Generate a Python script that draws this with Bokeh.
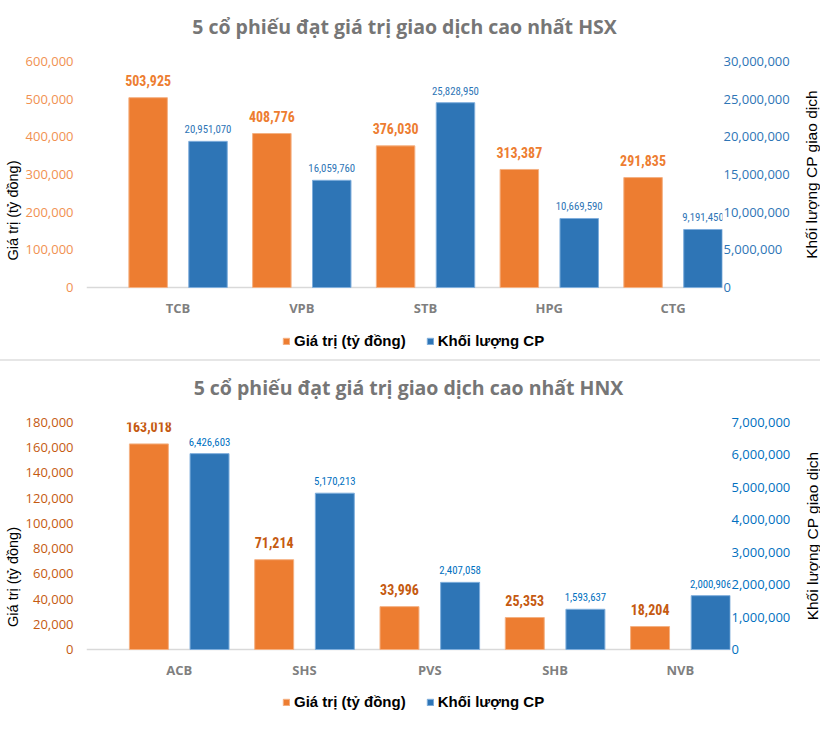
import subprocess
from bokeh.plotting import figure
from bokeh.models import (Range1d, LinearAxis, FixedTicker, NumeralTickFormatter,
                          Span, Legend, LegendItem, Div, Title)
from bokeh.layouts import column, row
from bokeh.core.properties import value
from bokeh.embed import file_html
from bokeh.resources import INLINE

# ---------------- data ----------------
hsx_title = "5 cổ phiếu đạt giá trị giao dịch cao nhất HSX"
hsx_stocks = ["TCB", "VPB", "STB", "HPG", "CTG"]
hsx_value = [503925, 408776, 376030, 313387, 291835]             # Giá trị (tỷ đồng)
hsx_volume = [20951070, 16059760, 25828950, 10669590, 9191450]    # labelled volume
hsx_volume_bar = [19400000, 14230000, 24530000, 9160000, 7700000]  # bar heights as drawn
hsx_left_ticks = [0, 100000, 200000, 300000, 400000, 500000, 600000]
hsx_right_ticks = [0, 5000000, 10000000, 15000000, 20000000, 25000000, 30000000]

hnx_title = "5 cổ phiếu đạt giá trị giao dịch cao nhất HNX"
hnx_stocks = ["ACB", "SHS", "PVS", "SHB", "NVB"]
hnx_value = [163018, 71214, 33996, 25353, 18204]
hnx_volume = [6426603, 5170213, 2407058, 1593637, 2000906]
hnx_volume_bar = [6040000, 4820000, 2070000, 1240000, 1660000]
hnx_left_ticks = [0, 20000, 40000, 60000, 80000, 100000, 120000, 140000, 160000, 180000]
hnx_right_ticks = [0, 1000000, 2000000, 3000000, 4000000, 5000000, 6000000, 7000000]

left_title = "Giá trị (tỷ đồng)"
right_title = "Khối lượng CP giao dịch"
legend_labels = ["Giá trị (tỷ đồng)", "Khối lượng CP"]

ORANGE = "#ED7D31"
BLUE = "#2E75B6"

# pick a narrow font for the data labels
try:
    fams = subprocess.run(["fc-list", ":", "family"], capture_output=True,
                          text=True).stdout
except Exception:
    fams = ""
if "Liberation Sans Narrow" in fams:
    NARROW, OSZ, BSZ = "Liberation Sans Narrow", "15px", "11.5px"
elif "Roboto Condensed" in fams:
    NARROW, OSZ, BSZ = "Roboto Condensed", "14px", "10.8px"
else:
    NARROW, OSZ, BSZ = "Roboto", "12.5px", "10px"


def build(title, stocks, vals, vols, vol_bars, lticks, rticks, frame_w, plot_h, extra_h,
          right_border, legend_y, ltick_color, rtick_color, olab_color, blab_color):
    n = len(stocks)
    ymax, rmax = lticks[-1], rticks[-1]
    p = figure(frame_width=frame_w, frame_height=plot_h + extra_h,
               output_backend="svg", toolbar_location=None,
               x_range=Range1d(-0.74, n - 1 + 0.40),
               y_range=Range1d(-ymax * extra_h / plot_h, ymax),
               min_border_left=86, min_border_right=right_border,
               min_border_top=61, min_border_bottom=0)
    p.extra_y_ranges = {"vol": Range1d(-rmax * extra_h / plot_h, rmax)}
    p.outline_line_color = None
    p.grid.visible = False
    p.background_fill_color = "white"
    p.border_fill_color = "white"
    p.xaxis.visible = False

    # real title, with a blank spacer title between it and the frame
    p.title.text = title
    p.title.align = "center"
    p.title.text_font = "Open Sans"
    p.title.text_font_style = "bold"
    p.title.text_font_size = "19.5px"
    p.title.text_color = "#767676"
    p.title.standoff = 0
    p.add_layout(Title(text=" ", text_font_size="2px", standoff=18), "above")

    xs = list(range(n))
    xo = [x - 0.242 for x in xs]
    xb = [x + 0.242 for x in xs]

    base = Span(location=0, dimension="width", line_color="#D9D9D9", line_width=1.5,
                level="underlay")
    p.add_layout(base)

    r1 = p.vbar(x=xo, top=vals, width=0.311, fill_color=ORANGE, line_color="#F4B183",
                line_width=1)
    r2 = p.vbar(x=xb, top=vol_bars, width=0.311, fill_color=BLUE, line_color="#7FAEDC",
                line_width=1, y_range_name="vol")

    p.text(x=xo, y=vals, text=[f"{v:,}" for v in vals], text_align="center",
           text_baseline="alphabetic", y_offset=-17,
           text_font=value(NARROW), text_font_style="bold",
           text_font_size=OSZ, text_color=olab_color)
    p.text(x=xb, y=vol_bars, text=[f"{v:,}" for v in vols], text_align="center",
           text_baseline="alphabetic", y_offset=-12,
           text_font=value(NARROW),
           text_font_size=BSZ, text_color=blab_color, y_range_name="vol")

    # category labels under the baseline
    p.text(x=xs, y=[0] * n, text=stocks, text_align="center", text_baseline="middle",
           y_offset=20, text_font=value("Open Sans"), text_font_style="bold",
           text_font_size="13px", text_color="#7F7F7F")

    # left axis
    ya = p.yaxis[0]
    ya.ticker = FixedTicker(ticks=lticks)
    ya.formatter = NumeralTickFormatter(format="0,0")
    ya.major_label_text_font = "Open Sans"
    ya.major_label_text_font_size = "13px"
    ya.major_label_text_color = ltick_color
    ya.major_label_standoff = 13
    ya.major_tick_out = 0
    ya.major_tick_in = 0
    ya.minor_tick_out = 0
    ya.minor_tick_in = 0
    ya.axis_line_color = None
    ya.major_tick_line_color = None
    ya.minor_tick_line_color = None
    ya.axis_label = left_title
    ya.axis_label_text_font = "Liberation Sans"
    ya.axis_label_text_font_style = "normal"
    ya.axis_label_text_font_size = "14.5px"
    ya.axis_label_text_color = "black"
    ya.axis_label_standoff = 2

    # right axis (tick labels only; its title is drawn by a slim companion figure)
    ra = LinearAxis(y_range_name="vol", ticker=FixedTicker(ticks=rticks),
                    formatter=NumeralTickFormatter(format="0,0"))
    ra.major_label_text_font = "Open Sans"
    ra.major_label_text_font_size = "13px"
    ra.major_label_text_color = rtick_color
    ra.major_label_standoff = 1
    ra.major_tick_out = 0
    ra.major_tick_in = 0
    ra.minor_tick_out = 0
    ra.minor_tick_in = 0
    ra.axis_line_color = None
    ra.major_tick_line_color = None
    ra.minor_tick_line_color = None
    p.add_layout(ra, "right")

    legend = Legend(items=[LegendItem(label=legend_labels[0], renderers=[r1]),
                           LegendItem(label=legend_labels[1], renderers=[r2])],
                    orientation="horizontal", location=(196, legend_y))
    legend.glyph_width = 8
    legend.glyph_height = 8
    legend.label_height = 16
    legend.label_standoff = 4
    legend.spacing = 20
    legend.padding = 0
    legend.margin = 0
    legend.border_line_color = None
    legend.background_fill_alpha = 0
    legend.label_text_font = "Liberation Sans"
    legend.label_text_font_style = "bold"
    legend.label_text_font_size = "15px"
    legend.label_text_color = "black"
    p.add_layout(legend)

    # slim figure carrying the right-hand axis title (reads bottom to top)
    t = figure(frame_width=1, frame_height=plot_h, output_backend="svg",
               toolbar_location=None, x_range=Range1d(0, 1), y_range=Range1d(0, 1),
               min_border_left=27, min_border_right=0, min_border_top=61,
               min_border_bottom=extra_h)
    t.outline_line_color = None
    t.grid.visible = False
    t.xaxis.visible = False
    t.border_fill_color = "white"
    t.background_fill_color = "white"
    ta = t.yaxis[0]
    ta.ticker = FixedTicker(ticks=[])
    ta.axis_line_color = None
    ta.major_tick_out = 0
    ta.major_tick_in = 0
    ta.minor_tick_out = 0
    ta.minor_tick_in = 0
    ta.major_label_standoff = 0
    ta.axis_label = right_title
    ta.axis_label_text_font = "Liberation Sans"
    ta.axis_label_text_font_style = "normal"
    ta.axis_label_text_font_size = "15.5px"
    ta.axis_label_text_color = "black"
    ta.axis_label_standoff = 0
    return row(p, t, spacing=0)


r_hsx = build(hsx_title, hsx_stocks, hsx_value, hsx_volume, hsx_volume_bar,
              hsx_left_ticks, hsx_right_ticks, 636, 226, 72, 70, 10,
              "#F19151", "#2E75B6", "#ED7D31", "#2E75B6")

sep = Div(text="", width=820, height=2, margin=0,
          styles={"background-color": "#E6E6E6"})

r_hnx = build(hnx_title, hnx_stocks, hnx_value, hnx_volume, hnx_volume_bar,
              hnx_left_ticks, hnx_right_ticks, 644, 227, 82, 62, 21,
              "#C55A11", "#0070C0", "#C55A11", "#0070C0")

layout = column(r_hsx, sep, r_hnx, spacing=0)
open("out.html", "w").write(file_html(layout, INLINE))
